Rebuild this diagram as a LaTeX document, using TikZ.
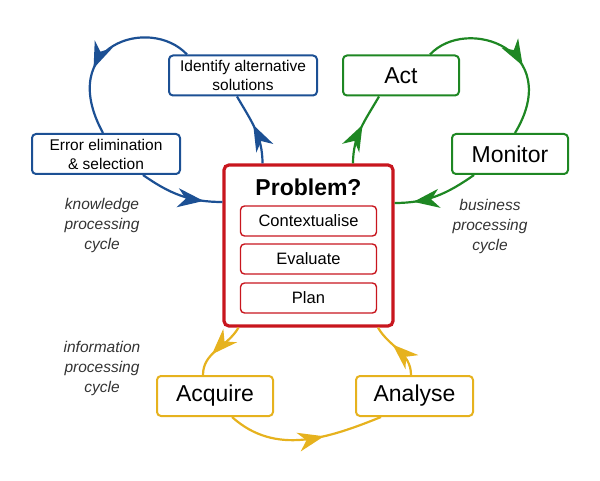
\documentclass[tikz,border=0pt]{standalone}
\usepackage{fontspec}
\setmainfont{Liberation Sans}
\usetikzlibrary{arrows.meta,decorations.markings}

\definecolor{kblue}{RGB}{28,80,148}
\definecolor{bgreen}{RGB}{30,135,35}
\definecolor{pred}{RGB}{200,22,30}
\definecolor{iyellow}{RGB}{230,178,30}

\tikzset{
  box/.style={draw, line width=2pt, rounded corners=4pt, align=center, inner sep=0pt},
  bigbox/.style={box, minimum width=116pt, minimum height=40pt, font=\fontsize{23}{27}\selectfont},
  smallbox/.style={box, minimum width=148pt, minimum height=40pt, font=\fontsize{15.5}{19}\selectfont},
  stepbox/.style={draw=pred, line width=1.4pt, rounded corners=4pt, minimum width=136pt, minimum height=30pt,
    inner sep=0pt, font=\fontsize{16.5}{20}\selectfont},
  cyclelabel/.style={align=center, text=black!80, font=\fontsize{15.5}{20}\selectfont\itshape},
  link/.style={line width=2.2pt},
  midarrow/.style={postaction={decorate, decoration={markings,
    mark=at position #1 with {\arrow{Stealth[length=26pt,width=19pt,inset=8pt]}}}}}
}

\begin{document}
\begin{tikzpicture}[x=1pt, y=-1pt]

	% 1. Khung ảnh
	\useasboundingbox (0,0) rectangle (600,481);

	% 2. Hộp trung tâm
	\node[draw=pred, line width=3.2pt, rounded corners=5pt, minimum width=169pt, minimum height=161pt] (prob) at (308.5,245.5) {};
	\node[font=\fontsize{23}{27}\selectfont\bfseries] (title) at (308.5,187) {Problem?};
	\node[stepbox] (ctx)  at (308.5,221) {Contextualise};
	\node[stepbox] (eval) at (308.5,259) {Evaluate};
	\node[stepbox] (plan) at (308.5,298) {Plan};

	% 3. Các hộp của ba chu trình
	\node[smallbox, draw=kblue] (ident) at (243,75.5) {Identify alternative\\solutions};
	\node[smallbox, draw=kblue] (err) at (106,154) {Error elimination\\\& selection};
	\node[bigbox, draw=bgreen] (act) at (401,75.5) {Act};
	\node[bigbox, draw=bgreen] (mon) at (510,154) {Monitor};
	\node[bigbox, draw=iyellow] (acq) at (215,396) {Acquire};
	\node[bigbox, draw=iyellow, minimum width=117pt] (ana) at (414.5,396) {Analyse};

	% 4. Nhãn chu trình
	\node[cyclelabel] (know) at (102,225) {knowledge\\processing\\cycle};
	\node[cyclelabel] (bus)  at (490,226) {business\\processing\\cycle};
	\node[cyclelabel] (info) at (102,368) {information\\processing\\cycle};

	% 5. Chu trình tri thức
	\draw[link, kblue, midarrow=0.55] ([xshift=-46pt]prob.north) to[out=90, in=-60] ([xshift=-6pt]ident.south);
	\draw[link, kblue, midarrow=0.62] ([xshift=-56pt]ident.north) .. controls (150,15) and (55,45) .. ([xshift=-3pt]err.north);
	\draw[link, kblue, midarrow=0.78] ([xshift=37pt]err.south) to[out=-35, in=180] ([yshift=43.5pt]prob.west);

	% 6. Chu trình kinh doanh
	\draw[link, bgreen, midarrow=0.55] ([xshift=44.5pt]prob.north) to[out=90, in=-120] ([xshift=-22pt]act.south);
	\draw[link, bgreen, midarrow=0.6] ([xshift=29pt]act.north) .. controls (467,15) and (565,50) .. ([xshift=5pt]mon.north);
	\draw[link, bgreen, midarrow=0.78] ([xshift=-36pt]mon.south) to[out=-145, in=0] ([yshift=42.5pt]prob.east);

	% 7. Chu trình thông tin
	\draw[link, iyellow, midarrow=0.62] ([xshift=-70pt]prob.south) to[out=-120, in=90] ([xshift=-12pt]acq.north);
	\draw[link, iyellow, midarrow=0.62] ([xshift=17pt]acq.south) to[out=-42, in=-158] ([xshift=-33.5pt]ana.south);
	\draw[link, iyellow, midarrow=0.62] ([xshift=-3.5pt]ana.north) to[out=90, in=-60] ([xshift=69.5pt]prob.south);

\end{tikzpicture}
\end{document}
